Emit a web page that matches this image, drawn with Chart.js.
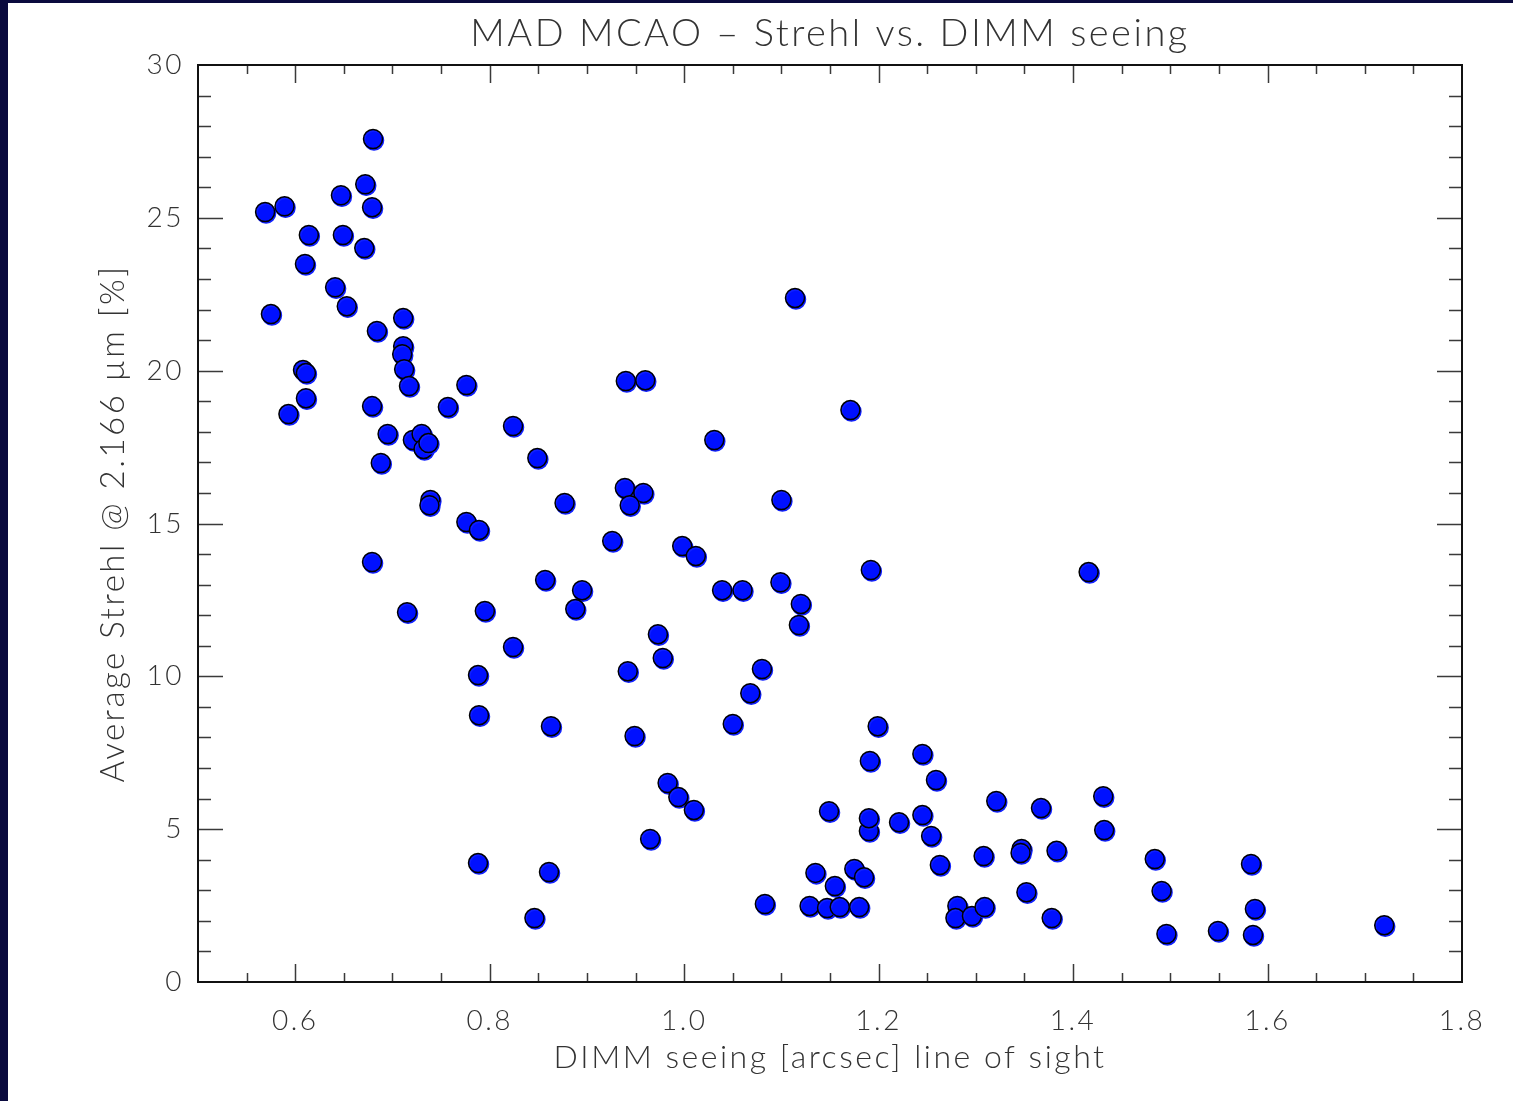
<!DOCTYPE html>
<html lang="en">
<head>
    <meta charset="UTF-8">
    <title>MAD MCAO - Strehl vs. DIMM seeing</title>
    <script src="https://cdn.jsdelivr.net/npm/chart.js"></script>
    <style>
        body { margin: 0; background: #0a0a3e; }
        #box { position: absolute; left: 8px; top: 3px; width: 1505px; height: 1098px; background: #fff; }
    </style>
</head>
<body>
    <div id="box"><canvas id="scatterChart"></canvas></div>

    <script>
        // ------------------------------------------------
        // Dados (seeing DIMM x Strehl médio)
        const seeingArcsec = [
            0.569,0.589,0.575,0.614,0.610,0.593,0.608,0.611,0.611,0.641,
            0.647,0.649,0.653,0.672,0.671,0.680,0.679,0.684,0.679,0.688,
            0.679,0.695,0.711,0.711,0.710,0.712,0.717,0.715,0.721,0.730,
            0.732,0.737,0.739,0.738,0.757,0.776,0.776,0.789,0.795,0.788,
            0.789,0.788,0.824,0.849,0.824,0.857,0.877,0.863,0.861,0.846,
            0.895,0.888,0.926,0.940,0.960,0.939,0.958,0.944,0.942,0.949,
            0.973,0.978,0.965,0.983,0.994,0.998,1.012,1.010,1.031,1.039,
            1.060,1.050,1.068,1.080,1.083,1.100,1.099,1.114,1.120,1.118,
            1.129,1.135,1.149,1.147,1.155,1.160,1.171,1.175,1.180,1.185,
            1.190,1.190,1.191,1.192,1.199,1.221,1.245,1.245,1.254,1.259,
            1.263,1.281,1.279,1.296,1.308,1.309,1.321,1.347,1.346,1.352,
            1.367,1.378,1.383,1.416,1.431,1.432,1.484,1.491,1.496,1.549,
            1.583,1.587,1.585,1.720
        ];
        const strehlPercent = [
            25.19,25.38,21.85,24.44,23.49,18.58,20.02,19.92,19.10,22.73,
            25.74,24.44,22.11,26.10,24.01,27.58,25.35,21.30,18.84,16.98,
            13.74,17.93,21.72,20.80,20.54,20.05,19.50,12.10,17.73,17.93,
            17.44,17.63,15.77,15.60,18.81,19.53,15.05,14.79,12.14,10.04,
            8.73,3.89,18.19,17.14,10.96,13.15,15.67,8.37,3.60,2.09,
            12.82,12.20,14.43,19.66,19.69,16.16,16.00,15.60,10.17,8.05,
            11.38,10.60,4.68,6.51,6.05,14.26,13.94,5.63,17.73,12.82,
            12.82,8.44,9.45,10.24,2.55,15.77,13.08,22.38,12.37,11.68,
            2.49,3.57,5.59,2.42,3.14,2.45,18.71,3.70,2.45,3.43,
            4.94,5.36,7.23,13.48,8.37,5.23,7.46,5.46,4.78,6.61,
            3.83,2.49,2.09,2.16,4.12,2.45,5.92,4.35,4.22,2.94,
            5.69,2.09,4.29,13.41,6.08,4.97,4.02,2.98,1.57,1.67,
            3.86,2.39,1.54,1.86
        ];

        // ticks com rótulo e passo dos ticks menores
        const xTickValues = [0.6, 0.8, 1.0, 1.2, 1.4, 1.6, 1.8];
        const yTickValues = [0, 5, 10, 15, 20, 25, 30];
        const xMinorStep = 0.05;
        const yMinorStep = 1;

        const textFont = "Lato, 'Open Sans', 'DejaVu Sans', sans-serif";
        const textColor = '#333';

        // ------------------------------------------------
        // Moldura e ticks para dentro (estilo IDL) nos quatro lados
        const frameTicks = {
            id: 'frameTicks',
            beforeDraw(chart) {
                chart.ctx.letterSpacing = '2.5px';
            },
            beforeDatasetsDraw(chart) {
                const ctx = chart.ctx;
                const { left, right, top, bottom } = chart.chartArea;
                const xs = chart.scales.x, ys = chart.scales.y;

                ctx.save();
                ctx.strokeStyle = '#3a3a3a';
                ctx.lineWidth = 1.5;
                ctx.beginPath();
                const nx = Math.round((xs.max - xs.min) / xMinorStep);
                for (let i = 1; i < nx; i++) {
                    const v = xs.min + i * xMinorStep;
                    const px = Math.round(xs.getPixelForValue(v)) + 0.5;
                    const major = xTickValues.some(t => Math.abs(t - v) < 1e-6);
                    const len = major ? 18 : 9;
                    ctx.moveTo(px, bottom); ctx.lineTo(px, bottom - len);
                    ctx.moveTo(px, top); ctx.lineTo(px, top + len);
                }
                const ny = Math.round((ys.max - ys.min) / yMinorStep);
                for (let i = 1; i < ny; i++) {
                    const v = ys.min + i * yMinorStep;
                    const py = Math.round(ys.getPixelForValue(v)) + 0.5;
                    const major = yTickValues.includes(v);
                    const len = major ? 25 : 13;
                    ctx.moveTo(left, py); ctx.lineTo(left + len, py);
                    ctx.moveTo(right, py); ctx.lineTo(right - len, py);
                }
                ctx.stroke();

                ctx.strokeStyle = '#111';
                ctx.lineWidth = 2;
                ctx.strokeRect(left, top, right - left, bottom - top);
                ctx.restore();

                // sombra azul dos marcadores
                ctx.save();
                ctx.shadowColor = '#1020ff';
                ctx.shadowOffsetX = 1;
                ctx.shadowOffsetY = 1.5;
                ctx.shadowBlur = 0;
            },
            afterDatasetsDraw(chart) {
                chart.ctx.restore();
            }
        };

        window.onload = () => {
            const points = seeingArcsec.map((x, i) => ({ x: x, y: strehlPercent[i] }));
            const ctx = document.getElementById('scatterChart');
            new Chart(ctx, {
                type: 'scatter',
                data: {
                    datasets: [{
                        label: 'Strehl',
                        data: points,
                        backgroundColor: '#0010ff',
                        borderColor: '#000',
                        borderWidth: 1.5,
                        pointRadius: 9.5,
                        pointHoverRadius: 9.5
                    }]
                },
                options: {
                    responsive: true,
                    maintainAspectRatio: false,
                    animation: false,
                    layout: { padding: { left: 0, right: 51, top: 0, bottom: 0 } },
                    plugins: {
                        legend: { display: false },
                        tooltip: { enabled: false },
                        title: {
                            display: true,
                            fullSize: false,
                            text: 'MAD MCAO – Strehl vs. DIMM seeing',
                            color: textColor,
                            font: { family: textFont, size: 38, weight: 300, lineHeight: 1.2 },
                            padding: { top: 8, bottom: 8.4 }
                        }
                    },
                    scales: {
                        x: {
                            type: 'linear',
                            min: 0.5,
                            max: 1.8,
                            grid: { display: false, drawTicks: false },
                            border: { display: false },
                            afterBuildTicks: scale => {
                                scale.ticks = xTickValues.map(v => ({ value: v }));
                            },
                            afterFit: scale => { scale.height = 119; },
                            ticks: {
                                padding: 22,
                                color: textColor,
                                font: { family: textFont, size: 28, weight: 300 },
                                callback: v => Number(v).toFixed(1)
                            },
                            title: {
                                display: true,
                                text: 'DIMM seeing [arcsec] line of sight',
                                color: textColor,
                                font: { family: textFont, size: 32, weight: 300, lineHeight: 1.2 },
                                padding: { top: 0, bottom: 24 }
                            }
                        },
                        y: {
                            min: 0,
                            max: 30,
                            grid: { display: false, drawTicks: false },
                            border: { display: false },
                            afterBuildTicks: scale => {
                                scale.ticks = yTickValues.map(v => ({ value: v }));
                            },
                            afterFit: scale => { scale.width = 190; },
                            ticks: {
                                padding: 14,
                                color: textColor,
                                font: { family: textFont, size: 28, weight: 300 },
                                callback: v => String(v)
                            },
                            title: {
                                display: true,
                                text: 'Average Strehl @ 2.166 µm [%]',
                                color: textColor,
                                font: { family: textFont, size: 33, weight: 300, lineHeight: 1.2 },
                                padding: { top: 86, bottom: 0 }
                            }
                        }
                    }
                },
                plugins: [frameTicks]
            });
        };
    </script>
</body>
</html>
